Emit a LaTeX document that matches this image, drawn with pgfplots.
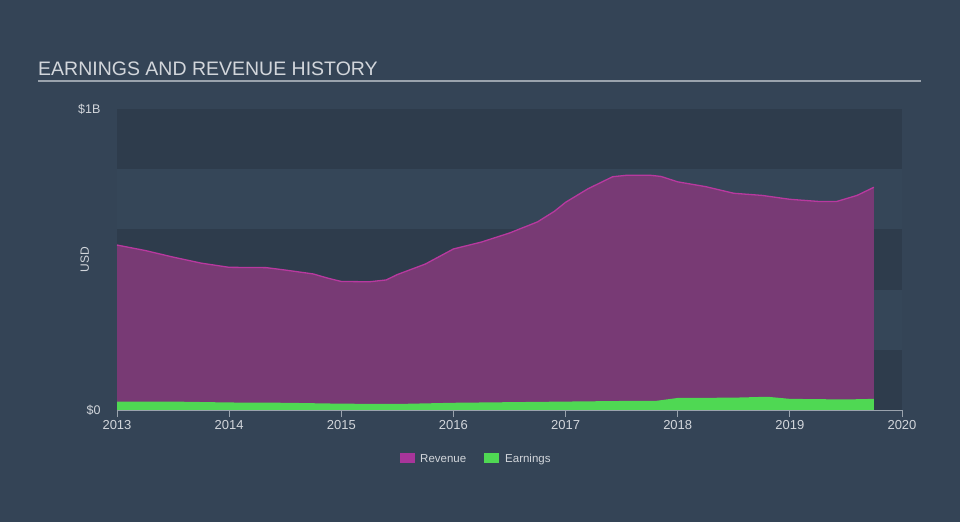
\documentclass[border=0pt]{standalone}
\usepackage{pgfplots}
\pgfplotsset{compat=1.18}
\usepackage{fontspec}
\setmainfont{Liberation Sans}
\definecolor{bg}{HTML}{344456}
\definecolor{banddark}{HTML}{2E3C4C}
\definecolor{bandlight}{HTML}{354658}
\definecolor{revfill}{HTML}{7B3A76}
\definecolor{revline}{HTML}{B8399F}
\definecolor{revkey}{HTML}{A8359A}
\definecolor{earn}{HTML}{4FD853}
\definecolor{txt}{HTML}{D2D6DB}
\definecolor{axisc}{HTML}{9AA3AD}
\pgfplotstableread{
x rev
2013.00 0.548
2013.25 0.530
2013.50 0.508
2013.75 0.488
2014.00 0.474
2014.33 0.473
2014.50 0.465
2014.75 0.452
2014.88 0.438
2015.00 0.427
2015.25 0.426
2015.40 0.432
2015.50 0.450
2015.75 0.485
2016.00 0.535
2016.25 0.558
2016.50 0.588
2016.75 0.625
2016.90 0.660
2017.00 0.690
2017.20 0.735
2017.42 0.775
2017.55 0.780
2017.75 0.780
2017.85 0.776
2018.00 0.758
2018.25 0.742
2018.50 0.720
2018.75 0.713
2019.00 0.700
2019.25 0.693
2019.42 0.693
2019.60 0.713
2019.75 0.740
}\revtable
\pgfplotstableread{
x earn
2013.00 0.028
2013.50 0.028
2014.00 0.025
2014.50 0.024
2015.00 0.021
2015.50 0.020
2016.00 0.024
2016.50 0.026
2017.00 0.028
2017.50 0.030
2017.80 0.030
2018.00 0.040
2018.50 0.041
2018.80 0.044
2019.00 0.037
2019.50 0.035
2019.75 0.037
}\earntable
\begin{document}
\begin{tikzpicture}[x=1pt,y=1pt]
\fill[bg] (0,0) rectangle (960,522);
\node[anchor=base west, text=txt, font=\fontsize{19.5}{20}\selectfont, inner sep=0pt] at (38,446) {EARNINGS AND REVENUE HISTORY};
\draw[axisc, line width=1.6pt] (38,441) -- (921,441);
\begin{axis}[
  at={(117pt,112pt)}, anchor=south west,
  scale only axis, width=785pt, height=301pt,
  xmin=2013, xmax=2020, ymin=0, ymax=1,
  axis line style={draw=none},
  axis x line*=bottom, axis y line*=left,
  xtick={2013,2014,2015,2016,2017,2018,2019,2020},
  xticklabels={2013,2014,2015,2016,2017,2018,2019,2020},
  ytick={0,1}, yticklabels={\$0,\$1B},
  xtick style={draw=axisc, line width=0.9pt},
  ytick style={draw=none},
  tick align=outside, major tick length=7pt,
  x tick label style={text=txt, font=\fontsize{13}{13}\selectfont, yshift=0pt},
  y tick label style={text=txt, font=\fontsize{12.5}{12}\selectfont, xshift=-6pt},
  /pgf/number format/assume math mode=true,
  ylabel={USD}, ylabel style={text=txt, font=\fontsize{12}{12}\selectfont, at={(axis description cs:-0.041,0.5)}, anchor=center},
  clip=false,
]
\fill[banddark] (axis cs:2013,0.8) rectangle (axis cs:2020,1.0);
\fill[bandlight] (axis cs:2013,0.6) rectangle (axis cs:2020,0.8);
\fill[banddark] (axis cs:2013,0.4) rectangle (axis cs:2020,0.6);
\fill[bandlight] (axis cs:2013,0.2) rectangle (axis cs:2020,0.4);
\fill[banddark] (axis cs:2013,0.0) rectangle (axis cs:2020,0.2);
\addplot[draw=none, fill=revfill, fill opacity=0.97] table[x=x,y=rev]{\revtable} \closedcycle;
\addplot[revline, line width=1.3pt] table[x=x,y=rev]{\revtable};
\addplot[draw=none, fill=earn] table[x=x,y=earn]{\earntable} \closedcycle;
\draw[axisc, line width=0.9pt] (axis cs:2013,0) -- (axis cs:2020,0);
\end{axis}
\fill[revkey] (400,59) rectangle (415,69);
\node[anchor=base west, text=txt, font=\fontsize{11.5}{11}\selectfont, inner sep=0pt] at (420,60) {Revenue};
\fill[earn] (484,59) rectangle (499,69);
\node[anchor=base west, text=txt, font=\fontsize{11.5}{11}\selectfont, inner sep=0pt] at (505,60) {Earnings};
\end{tikzpicture}
\end{document}
